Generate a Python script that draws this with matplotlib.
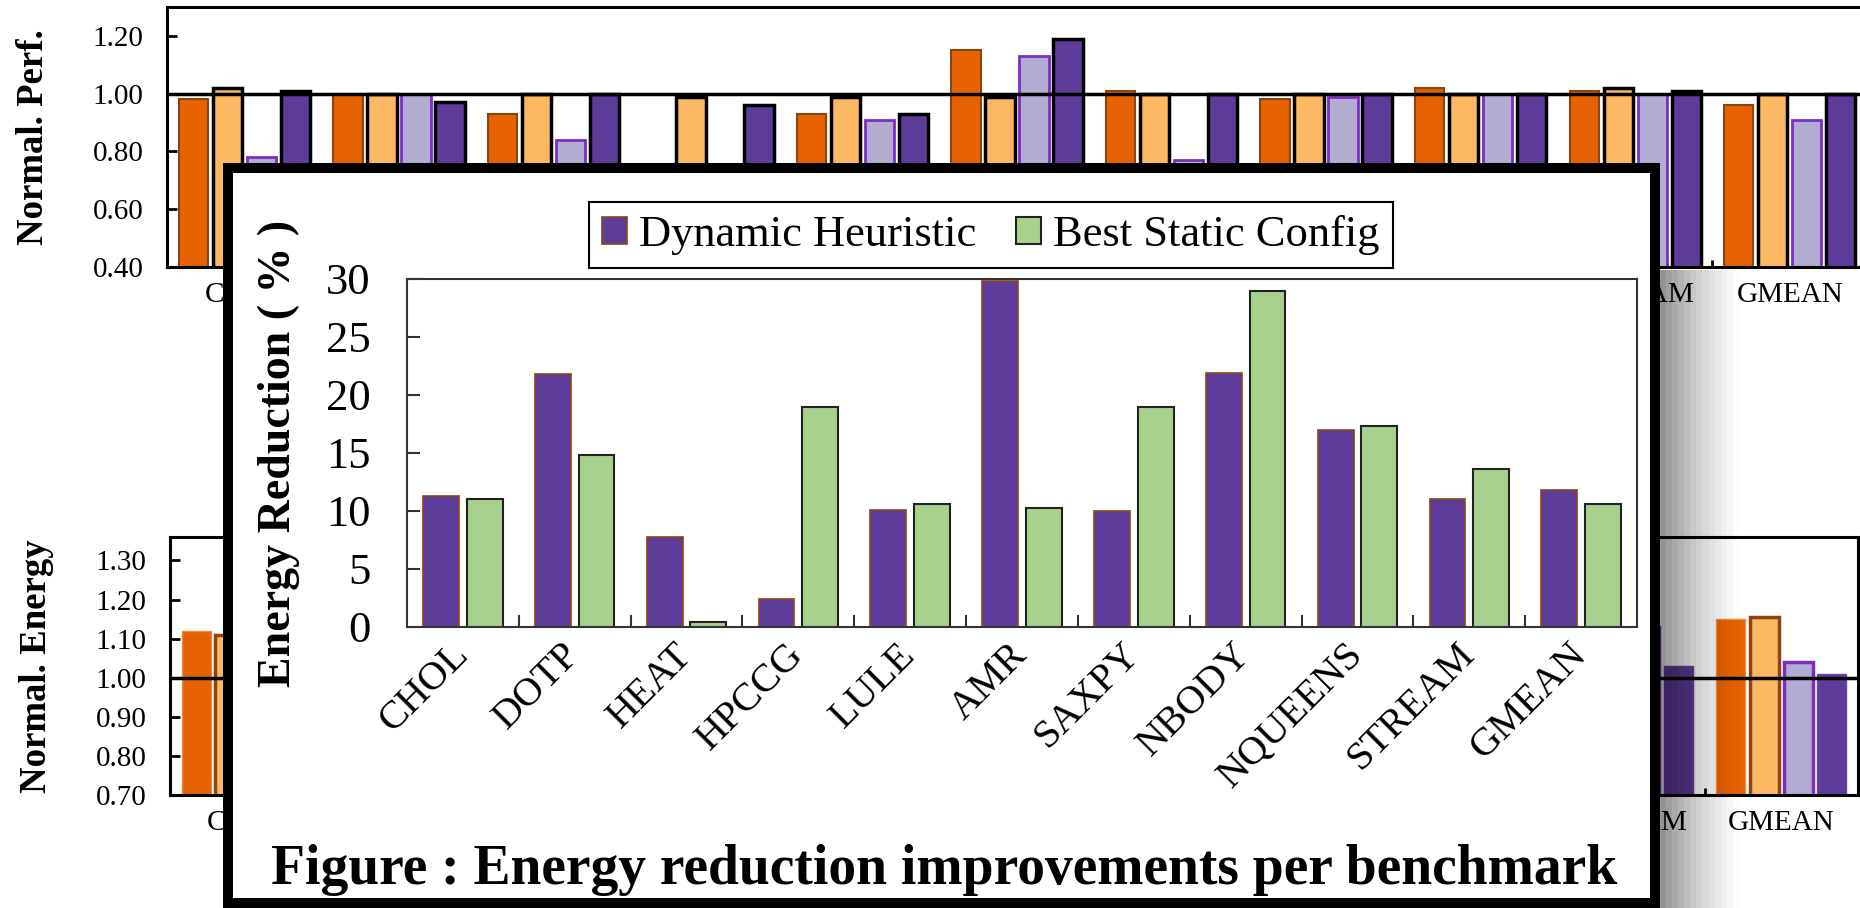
import numpy as np
import matplotlib
matplotlib.use("Agg")
import matplotlib.pyplot as plt

W, H = 1860, 908
plt.rcParams['font.family'] = ['Liberation Serif', 'DejaVu Serif']

benchmarks = ["CHOL", "DOTP", "HEAT", "HPCCG", "LULE", "AMR",
              "SAXPY", "NBODY", "NQUEENS", "STREAM", "GMEAN"]

# background charts (4 configurations each, partly hidden by the inset)
perf_a = [0.98, 1.00, 0.93, 0.72, 0.93, 1.15, 1.01, 0.98, 1.02, 1.01, 0.96]
perf_b = [1.02, 1.00, 1.00, 0.99, 0.99, 0.99, 1.00, 1.00, 1.00, 1.02, 1.00]
perf_c = [0.78, 1.00, 0.84, 0.70, 0.91, 1.13, 0.77, 0.99, 1.00, 1.00, 0.91]
perf_d = [1.01, 0.97, 1.00, 0.96, 0.93, 1.19, 1.00, 1.00, 1.00, 1.01, 1.00]

energy_a = [1.12, 1.02, 1.05, 1.10, 1.04, 0.95, 1.06, 0.98, 1.01, 1.08, 1.15]
energy_b = [1.11, 1.01, 1.06, 1.08, 1.03, 0.97, 1.05, 0.99, 1.00, 1.09, 1.155]
energy_c = [1.05, 0.90, 0.98, 1.02, 0.97, 0.80, 1.00, 0.85, 0.90, 1.13, 1.04]
energy_d = [1.00, 0.85, 0.95, 1.00, 0.96, 0.78, 0.98, 0.83, 0.89, 1.03, 1.01]

# inset: energy reduction (%)
dyn_heuristic = [11.3, 21.8, 7.8, 2.4, 10.1, 29.8, 10.0, 21.9, 17.0, 11.0, 11.8]
best_static = [11.0, 14.8, 0.4, 19.0, 10.6, 10.3, 19.0, 29.0, 17.3, 13.6, 10.6]

ORANGE, LORANGE, LPURPLE, DPURPLE = "#E66100", "#FDB863", "#B2ABD2", "#5E3C99"
GREEN = "#A9D18E"


def rect(l, t, r, b):
    return [l / W, 1 - b / H, (r - l) / W, (b - t) / H]


def background(ax, series, edges, lws, ylim, yticks, ylabel):
    x = np.arange(len(benchmarks))
    offs = [-0.33, -0.11, 0.11, 0.33]
    cols = [ORANGE, LORANGE, LPURPLE, DPURPLE]
    for vals, off, c, ec, lw in zip(series, offs, cols, edges, lws):
        ax.bar(x + off, vals, 0.19, color=c, edgecolor=ec, linewidth=lw, zorder=2)
    ax.axhline(1.0, color="black", lw=2.5, zorder=3)
    ax.set_xlim(-0.5, len(benchmarks) - 0.5)
    ax.set_ylim(*ylim)
    ax.set_yticks(yticks)
    ax.set_yticklabels(["%.2f" % v for v in yticks])
    ax.set_xticks(x)
    ax.set_xticklabels(benchmarks)
    ax.set_xticks(x[:-1] + 0.5, minor=True)
    ax.tick_params(axis="x", which="major", length=0, labelsize=21, pad=11)
    ax.tick_params(axis="x", which="minor", direction="in", length=5, width=2)
    ax.tick_params(axis="y", direction="in", length=7, width=2, labelsize=21, pad=17)
    for s in ax.spines.values():
        s.set_linewidth(2.2)
    ax.set_ylabel(ylabel, fontsize=26.5, fontweight="bold", labelpad=30)


fig = plt.figure(figsize=(W / 100, H / 100), dpi=100)

ax_top = fig.add_axes(rect(167, 7, 1867, 267))
background(ax_top, [perf_a, perf_b, perf_c, perf_d],
           ["#8B4513", "black", "#7B2FBE", "black"], [1.5, 2.5, 2, 2.5],
           (0.40, 1.30), [0.40, 0.60, 0.80, 1.00, 1.20], "Normal. Perf.")

ax_bot = fig.add_axes(rect(170, 537, 1858, 795))
background(ax_bot, [energy_a, energy_b, energy_c, energy_d],
           ["#F08A40", "#8B4513", "#7B2FBE", "#7040B0"], [1, 2.5, 2.5, 1],
           (0.70, 1.36), [0.70, 0.80, 0.90, 1.00, 1.10, 1.20, 1.30], "Normal. Energy")

# drop shadow right of the inset box
ax_sh = fig.add_axes(rect(1660, 270, 1745, 908))
grad = np.zeros((1, 14, 4))
grad[..., 3] = np.linspace(0.42, 0.0, 14) ** 1.3 / 0.42 ** 0.3
ax_sh.imshow(grad, aspect="auto", interpolation="nearest", extent=[0, 1, 0, 1])
ax_sh.axis("off")

# inset frame
ax_box = fig.add_axes(rect(228, 168, 1655, 903))
ax_box.set_facecolor("white")
ax_box.set_xticks([])
ax_box.set_yticks([])
for s in ax_box.spines.values():
    s.set_linewidth(7.2)
    s.set_color("black")

ax = fig.add_axes(rect(407, 279, 1637, 627))
x = np.arange(len(benchmarks))
b1 = ax.bar(x - 0.195, dyn_heuristic, 0.32, color=DPURPLE, edgecolor="#8B4513",
            linewidth=1.2, label="Dynamic Heuristic", zorder=2)
b2 = ax.bar(x + 0.195, best_static, 0.32, color=GREEN, edgecolor="#222222",
            linewidth=1.5, label="Best Static Config", zorder=2)
ax.set_xlim(-0.5, len(benchmarks) - 0.5)
ax.set_ylim(0, 30)
ax.set_yticks(range(0, 31, 5))
ax.set_xticks(x)
ax.set_xticklabels(benchmarks, rotation=45, ha="right", va="center",
                   rotation_mode="anchor")
ax.set_xticks(x[:-1] + 0.5, minor=True)
ax.tick_params(axis="x", which="major", length=0, labelsize=29, pad=16)
ax.tick_params(axis="x", which="minor", direction="in", length=9, width=1.5, color="#333333")
ax.tick_params(axis="y", direction="in", length=9, width=1.5, labelsize=32, pad=26,
               color="#333333")
for s in ax.spines.values():
    s.set_linewidth(1.5)
    s.set_color("#333333")
ax.set_ylabel("Energy Reduction ( % )", fontsize=33, fontweight="bold", labelpad=19)

leg = ax.legend(handles=[b1, b2], loc="center", bbox_to_anchor=(991 / W, 1 - 235 / H),
                bbox_transform=fig.transFigure, ncol=2, fontsize=32, frameon=True,
                fancybox=False, edgecolor="black", framealpha=1, handlelength=0.55,
                handleheight=0.55, handletextpad=0.28, columnspacing=0.9,
                borderpad=0.3, borderaxespad=0)
leg.get_frame().set_linewidth(1.5)

fig.text(944 / W, 1 - 884 / H, "Figure : Energy reduction improvements per benchmark",
         ha="center", va="baseline", fontsize=40, fontweight="bold")

fig.savefig("out.png", dpi=100)
